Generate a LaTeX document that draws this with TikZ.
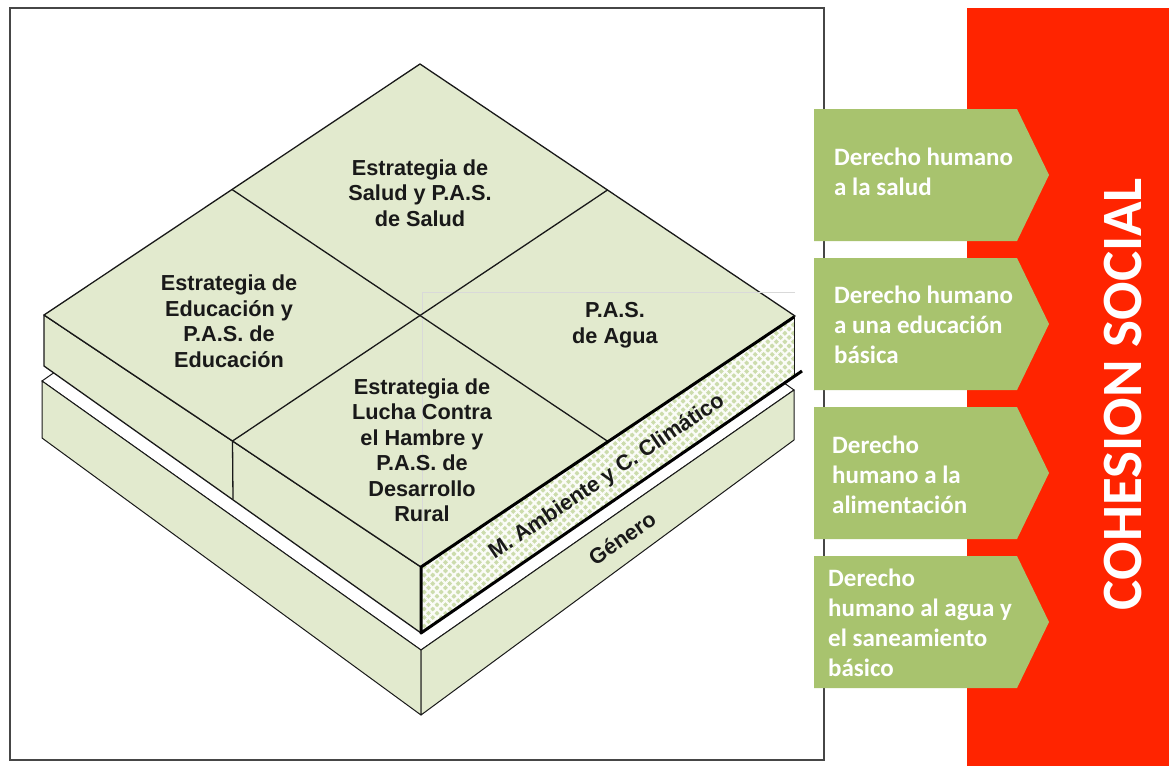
\documentclass[tikz,border=0pt]{standalone}
\usepackage{fontspec}
\setmainfont{Liberation Sans}
\newfontfamily\carlito{Carlito}
\usepackage{tikz}
\usetikzlibrary{calc,patterns.meta}

\definecolor{verdecara}{RGB}{226,234,206}
\definecolor{verdetrama}{RGB}{204,220,172}
\definecolor{verdeflecha}{RGB}{168,195,110}
\definecolor{rojocohesion}{RGB}{255,36,0}
\definecolor{tinta}{RGB}{25,25,25}

\begin{document}
\begin{tikzpicture}[x=1pt,y=-1pt,
  cara/.style={fill=verdecara,draw=tinta,line width=1.3pt,line join=round},
  trama/.style={fill=verdetrama,
    postaction={pattern={Lines[angle=45,distance=6pt,line width=2.2pt]},pattern color=white!92!verdetrama},
    postaction={pattern={Lines[angle=-45,distance=6pt,line width=2.2pt]},pattern color=white!92!verdetrama}},
  grueso/.style={draw=black,line width=3pt,line join=round},
  celda/.style={font=\bfseries\fontsize{21.7}{25.5}\selectfont,text=tinta,align=center,inner sep=0pt},
  derecho/.style={font=\carlito\bfseries\fontsize{25}{30}\selectfont,text=white,align=left,anchor=west,inner sep=0pt}]
  \useasboundingbox (0,0) rectangle (1169,766);

  % marco y franja roja
  \draw[gray!55!black,line width=1.8pt] (10,8) rectangle (824,760);
  \fill[rojocohesion] (967,8) rectangle (1169,766);

  % flechas de derechos
  \foreach \t in {109,258,407,556}
    \fill[verdeflecha] (814,\t) -- (1017,\t) -- (1049,\t+66) -- (1017,\t+132) -- (814,\t+132) -- cycle;

  % esquinas del bloque
  \coordinate (T) at (420,64);
  \coordinate (L) at (44,315);
  \coordinate (R) at (795,316);
  \coordinate (F) at (421,567);

  % losa inferior (Genero)
  \filldraw[fill=white,draw=tinta,line width=1pt] (42,381) -- (421,650) -- (794,390) -- (415,121) -- cycle;
  \filldraw[cara,line width=1pt] (42,381) -- (421,650) -- (421,715) -- (42,438) -- cycle;
  \filldraw[cara,line width=1pt] (421,650) -- (794,390) -- (794,440) -- (421,715) -- cycle;

  % losa superior
  \filldraw[cara] (L) -- (F) -- (421,633) -- (44,366) -- cycle;
  \path[trama] (F) -- (794,317) -- (794,377) -- (421,633) -- cycle;
  \draw[tinta,line width=1pt] (794,317) -- (794,377);
  \filldraw[cara] (T) -- (R) -- (F) -- (L) -- cycle;

  % cuadro gris tenue
  \draw[gray!30,line width=0.8pt] (795,292) -- (422,292) -- (422,567);

  % divisiones
  \draw[tinta,line width=1.3pt] ($(T)!.5!(L)$) -- ($(R)!.5!(F)$);
  \draw[tinta,line width=1.3pt] ($(T)!.5!(R)$) -- ($(L)!.5!(F)$) -- (233,499);
  \draw[grueso] (794,317) -- (F) -- (421,633) -- (802,371);

  % textos del bloque
  \node[celda] (cSalud) at (420,193) {Estrategia de\\Salud y P.A.S.\\de Salud};
  \node[celda] (cEduc) at (229,321) {Estrategia de\\Educación y\\P.A.S. de\\Educación};
  \node[celda] (cAgua) at (615,325) {P.A.S.\\de Agua};
  \node[celda] (cHambre) at (422,450) {Estrategia de\\Lucha Contra\\el Hambre y\\P.A.S. de\\Desarrollo\\Rural};
  \node[celda,rotate=34] (tAmbiente) at (607,477) {M. Ambiente y C. Climático};
  \node[celda,rotate=35] (tGenero) at (622,538) {Género};

  % textos de las flechas
  \node[derecho] (dSalud) at (834,172) {Derecho humano\\a la salud};
  \node[derecho] (dEduc) at (834,325) {Derecho humano\\a una educación\\básica};
  \node[derecho] (dAlim) at (832,475) {Derecho\\humano a la\\alimentación};
  \node[derecho] (dAgua) at (828,623) {Derecho\\humano al agua y\\el saneamiento\\básico};

  \node[rotate=90,text=white,inner sep=0pt,font=\carlito\bfseries\fontsize{57}{60}\selectfont] (cohesion) at (1123,394) {COHESION SOCIAL};
\end{tikzpicture}
\end{document}
